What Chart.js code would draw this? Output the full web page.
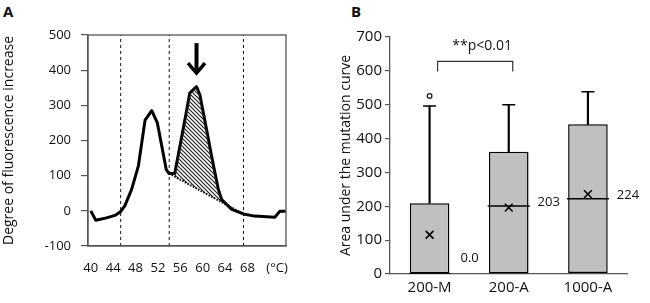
<!DOCTYPE html>
<html>
<head>
<meta charset="utf-8">
<script src="https://cdn.jsdelivr.net/npm/chart.js@4.4.1/dist/chart.umd.min.js"></script>
<style>
  html, body { margin: 0; padding: 0; background: #fff; }
  body { width: 650px; height: 303px; position: relative; overflow: hidden; font-family: "Open Sans", sans-serif; }
  .wrap { position: absolute; top: 0; }
  .panel { position: absolute; font-weight: bold; font-size: 15px; color: #111; }
</style>
</head>
<body>
<div class="panel" style="left:3px; top:1px;">A</div>
<div class="panel" style="left:351px; top:1px;">B</div>
<div class="wrap" style="left:0; width:320px; height:303px;"><canvas id="cA" width="320" height="303"></canvas></div>
<div class="wrap" style="left:320px; width:330px; height:303px;"><canvas id="cB" width="330" height="303"></canvas></div>
<script>
// ---------- Panel A data ----------
const curveX = [40.0, 40.9, 42.8, 44.3, 45.3, 46.1, 47.3, 48.5, 49.7, 50.9, 51.9, 53.5, 54.0, 55.0, 56.5, 57.7, 58.9, 59.5, 60.7, 61.6, 62.8, 63.4, 65.2, 67.5, 69.3, 72.9, 73.8, 74.85];
const curveY = [0, -27, -20, -13, -3, 15, 61, 127, 258, 285, 250, 117, 106, 106, 231, 335, 353, 330, 231, 155, 61, 32, 4, -10, -15, -18, -1, -1];
const baselineX = [54.0, 67.4];
const baselineY = [106, -10];
const hatchEndX = 64.3;
const dashX = [45.34, 54.02, 67.3];
const xTickVals = [40, 44, 48, 52, 56, 60, 64, 68, 73.3];
const xTickLabels = ['40', '44', '48', '52', '56', '60', '64', '68', '(°C)'];
const arrowX = 58.9;
const arrowTop = 477;
const arrowTip = 386;

// ---------- Panel B data ----------
const categories = ['200-M', '200-A', '1000-A'];
const boxQ1 = [0, 0, 3];
const boxQ3 = [209, 361, 442];
const medians = [0, 201, 222];
const means = [116, 196, 236];
const whiskerMax = [496, 500, 538];
const outliers = [526, null, null];
const medianLabels = ['0.0', '203', '224'];
const sigPair = [0, 1];
const sigY = 628;
const sigLabel = '**p<0.01';

const FONT = '"Open Sans", sans-serif';
const AXIS = '#555555';
const TXT = '#111111';

function pts(xs, ys) { return xs.map((x, i) => ({ x: x, y: ys[i] })); }

function hatchPattern() {
  const c = document.createElement('canvas');
  c.width = 4; c.height = 4;
  const g = c.getContext('2d');
  g.strokeStyle = '#222';
  g.lineWidth = 1.2;
  g.beginPath();
  g.moveTo(0, 0); g.lineTo(4, 4);
  g.moveTo(-1, 3); g.lineTo(1, 5);
  g.moveTo(3, -1); g.lineTo(5, 1);
  g.stroke();
  return g.createPattern(c, 'repeat');
}

const hatchPts = [];
curveX.forEach((x, i) => { if (x >= baselineX[0] && x <= hatchEndX) hatchPts.push({ x: x, y: curveY[i] }); });
(function () {
  const t = (hatchEndX - baselineX[0]) / (baselineX[1] - baselineX[0]);
  hatchPts.push({ x: hatchEndX, y: baselineY[0] + t * (baselineY[1] - baselineY[0]) });
})();

const dashSets = dashX.map(x => ({
  data: [{ x: x, y: -100 }, { x: x, y: 500 }],
  showLine: true, borderColor: '#111', borderWidth: 1, borderDash: [3, 3],
  pointRadius: 0, fill: false
}));

const boxBorderPlugin = {
  id: 'boxBorder',
  afterDraw(chart) {
    const a = chart.chartArea, ctx = chart.ctx;
    ctx.save();
    ctx.strokeStyle = AXIS; ctx.lineWidth = 1.3;
    ctx.strokeRect(a.left, a.top, a.right - a.left, a.bottom - a.top);
    const xs = chart.scales.x, ys = chart.scales.y;
    const ax = xs.getPixelForValue(arrowX);
    const y0 = ys.getPixelForValue(arrowTop), y1 = ys.getPixelForValue(arrowTip);
    ctx.strokeStyle = '#000';
    ctx.lineWidth = 4; ctx.lineCap = 'butt';
    ctx.beginPath(); ctx.moveTo(ax, y0); ctx.lineTo(ax, y1 - 3); ctx.stroke();
    ctx.lineJoin = 'miter'; ctx.lineWidth = 3.5;
    ctx.beginPath(); ctx.moveTo(ax - 8.5, y1 - 12); ctx.lineTo(ax, y1 - 2); ctx.lineTo(ax + 8.5, y1 - 12); ctx.stroke();
    ctx.restore();
  }
};

new Chart(document.getElementById('cA'), {
  type: 'scatter',
  data: {
    datasets: [
      ...dashSets,
      { data: pts(baselineX, baselineY), showLine: true, borderColor: '#000', borderWidth: 2, borderDash: [1.5, 1.5], pointRadius: 0, fill: false },
      { data: hatchPts, showLine: true, borderWidth: 0, borderColor: 'rgba(0,0,0,0)', pointRadius: 0, backgroundColor: hatchPattern(), fill: 3 },
      { data: pts(curveX, curveY), showLine: true, borderColor: '#000', borderWidth: 3, borderJoinStyle: 'round', pointRadius: 0, fill: false, tension: 0 }
    ]
  },
  options: {
    responsive: false, animation: false, devicePixelRatio: 1,
    layout: { padding: { top: 35, right: 34, left: 0, bottom: 0 } },
    plugins: { legend: { display: false }, tooltip: { enabled: false } },
    scales: {
      x: {
        type: 'linear', min: 39.5, max: 74.9,
        afterFit(s) { s.height = 57; },
        afterBuildTicks(s) { s.ticks = xTickVals.map(v => ({ value: v })); },
        grid: { display: false, drawTicks: false },
        border: { display: true, color: AXIS, width: 1.3 },
        ticks: {
          autoSkip: false, maxRotation: 0, padding: 14, color: TXT,
          font: { family: FONT, size: 13 },
          callback(v, i) { return xTickLabels[i]; }
        }
      },
      y: {
        min: -100, max: 500,
        afterFit(s) { s.width = 88; },
        ticks: { stepSize: 100, padding: 10, color: TXT, font: { family: FONT, size: 13 } },
        grid: { drawOnChartArea: false, drawTicks: true, tickLength: 7, color: AXIS, lineWidth: 1.2 },
        border: { display: true, color: AXIS, width: 1.3 },
        title: { display: true, text: 'Degree of fluorescence increase', color: TXT, font: { family: FONT, size: 14 }, padding: { top: 1, bottom: 0 } }
      }
    }
  },
  plugins: [boxBorderPlugin]
});

// ---------- Panel B ----------
const annotB = {
  id: 'annotB',
  afterDatasetsDraw(chart) {
    const ctx = chart.ctx, xs = chart.scales.x, ys = chart.scales.y;
    ctx.save();
    ctx.fillStyle = TXT;
    ctx.font = '13px ' + FONT;
    ctx.textAlign = 'center'; ctx.textBaseline = 'middle';
    medianLabels.forEach((t, i) => {
      const cx = xs.getPixelForValue(i) + 40;
      const my = Math.min(ys.getPixelForValue(medians[i]), ys.bottom - 12) - 4;
      ctx.fillText(t, cx, my);
    });
    const l = xs.getPixelForValue(sigPair[0]) + 8;
    const r = xs.getPixelForValue(sigPair[1]) + 4;
    const yt = ys.getPixelForValue(sigY);
    ctx.strokeStyle = '#333'; ctx.lineWidth = 1.2;
    ctx.beginPath();
    ctx.moveTo(l, yt + 10); ctx.lineTo(l, yt); ctx.lineTo(r, yt); ctx.lineTo(r, yt + 10);
    ctx.stroke();
    ctx.font = '14px ' + FONT;
    ctx.fillText(sigLabel, (l + r) / 2 + 7, yt - 15);
    ctx.restore();
  }
};

new Chart(document.getElementById('cB'), {
  type: 'bar',
  data: {
    labels: categories,
    datasets: [
      { data: categories.map((c, i) => [boxQ1[i], boxQ3[i]]), backgroundColor: '#c0c0c0', borderColor: '#000', borderWidth: 1.5, borderSkipped: false, barPercentage: 0.5, categoryPercentage: 1, grouped: false, order: 5 },
      { data: categories.map((c, i) => [boxQ3[i], whiskerMax[i]]), backgroundColor: '#000', borderWidth: 0, barThickness: 1.5, grouped: false, order: 4 },
      { type: 'line', data: whiskerMax, showLine: false, pointStyle: 'line', pointRadius: 6.5, pointBorderWidth: 1.5, pointBorderColor: '#000', order: 3 },
      { type: 'line', data: medians, showLine: false, pointStyle: 'line', pointRadius: 21, pointBorderWidth: 1.5, pointBorderColor: '#000', order: 2 },
      { type: 'line', data: means, showLine: false, pointStyle: 'crossRot', pointRadius: 5.5, pointBorderWidth: 1.6, pointBorderColor: '#000', order: 1 },
      { type: 'line', data: outliers, showLine: false, pointStyle: 'circle', pointRadius: 2.3, pointBorderWidth: 1.4, pointBorderColor: '#222', pointBackgroundColor: '#fff', order: 0 }
    ]
  },
  options: {
    responsive: false, animation: false, devicePixelRatio: 1,
    layout: { padding: { top: 37, right: 5, left: 0, bottom: 0 } },
    plugins: { legend: { display: false }, tooltip: { enabled: false } },
    scales: {
      x: {
        afterFit(s) { s.height = 29; },
        grid: { display: false, drawTicks: false },
        border: { display: true, color: AXIS, width: 1.3 },
        ticks: { padding: 5, color: TXT, font: { family: FONT, size: 15 } }
      },
      y: {
        min: 0, max: 700,
        afterFit(s) { s.width = 70; },
        ticks: { stepSize: 100, padding: 3, color: TXT, font: { family: FONT, size: 15 } },
        grid: { drawOnChartArea: false, drawTicks: true, tickLength: 5, color: AXIS, lineWidth: 1.2 },
        border: { display: true, color: AXIS, width: 1.3 },
        title: { display: true, text: 'Area under the mutation curve', color: TXT, font: { family: FONT, size: 14 }, padding: { top: 18, bottom: 0 } }
      }
    }
  },
  plugins: [annotB]
});
</script>
</body>
</html>
